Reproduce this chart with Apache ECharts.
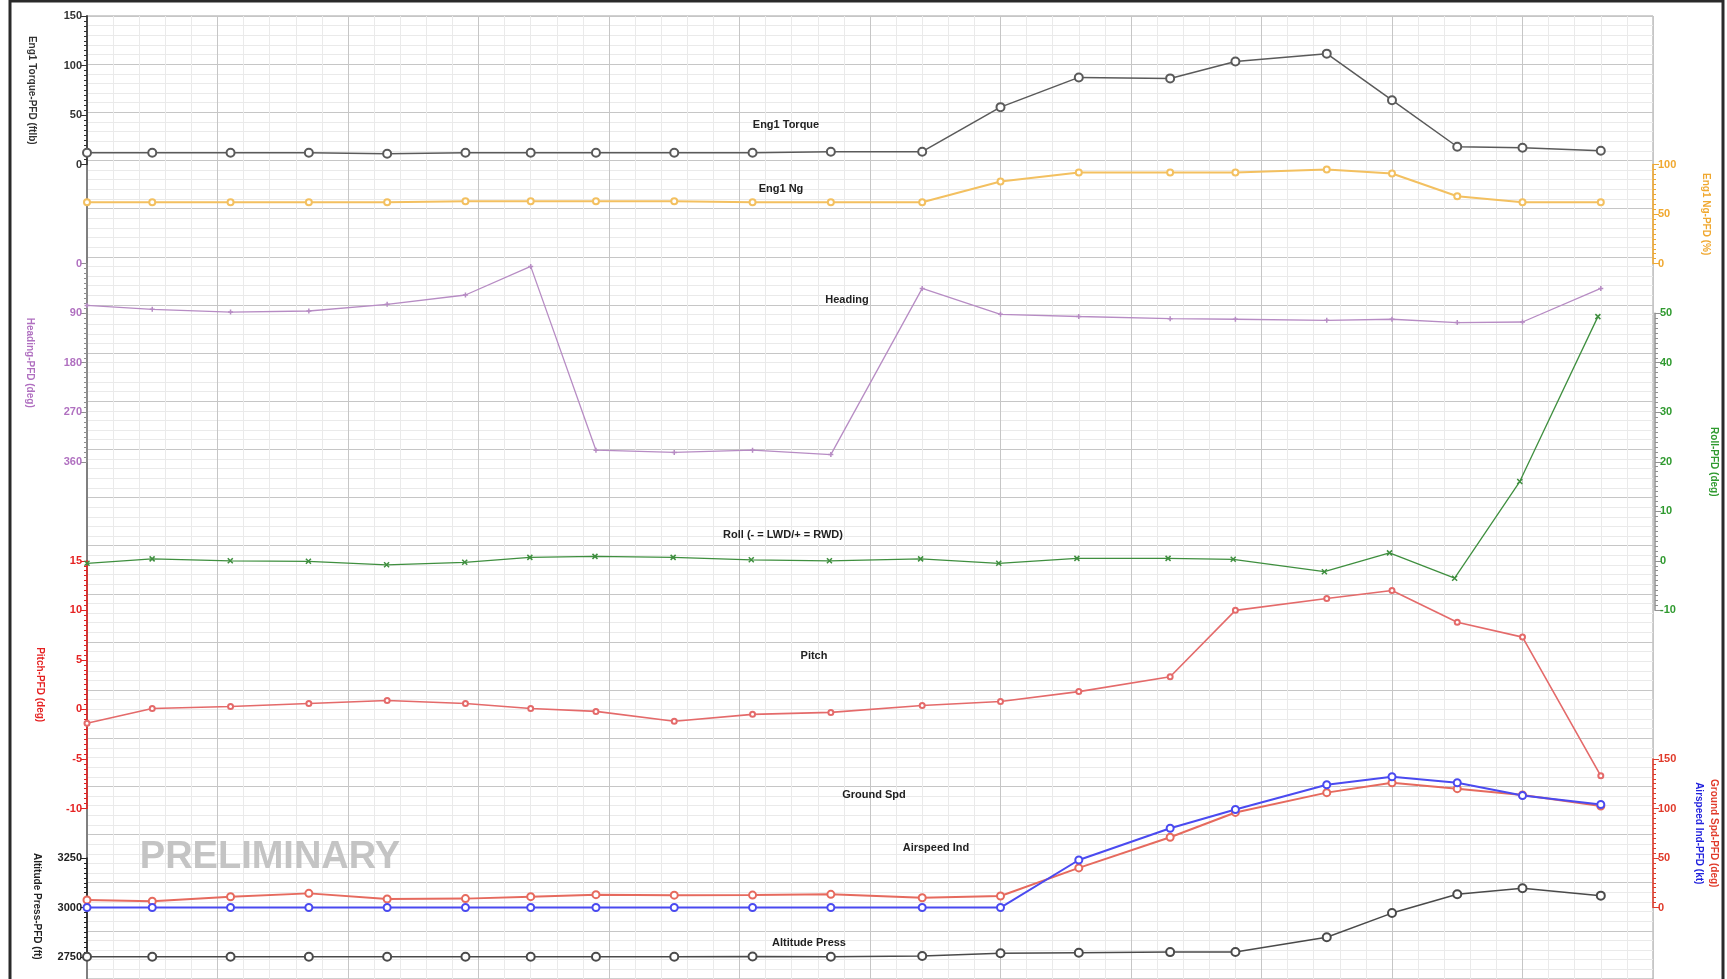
<!DOCTYPE html>
<html>
<head>
<meta charset="utf-8">
<script src="https://cdn.jsdelivr.net/npm/echarts@6/dist/echarts.min.js"></script>
<style>
  html, body { margin: 0; background: #fff; }
  #chart { width: 1727px; height: 979px; }
</style>
</head>
<body>
<div id="chart"></div>
<script>
// sample times (s)
const times = [0, 5, 11, 17, 23, 29, 34, 39, 45, 51, 57, 64, 70, 76, 83, 88, 95, 100, 105, 110, 116];

const torque = [12, 12, 12, 12, 11, 12, 12, 12, 12, 12, 13, 13, 58, 88, 87, 104, 112, 65, 18, 17, 14];
const ng = [62, 62, 62, 62, 62, 63, 63, 63, 63, 62, 62, 62, 83, 92, 92, 92, 95, 91, 68, 62, 62];
const heading = [76, 83, 88, 86, 74, 57, 5, 339, 343, 339, 347, 45, 92, 96, 100, 101, 103, 101, 107, 106, 45];
const roll = [-0.5, 0.4, 0, -0.1, -0.8, -0.3, 0.7, 0.9, 0.7, 0.2, 0, 0.4, -0.5, 0.5, 0.5, 0.3, -2.2, 1.6, -3.5, 16, 49.3];
const pitch = [-1.4, 0.1, 0.3, 0.6, 0.9, 0.6, 0.1, -0.2, -1.2, -0.5, -0.3, 0.4, 0.8, 1.8, 3.3, 10, 11.2, 12, 8.8, 7.3, -6.7];
const groundSpd = [7.6, 6.3, 10.9, 14.3, 8.6, 9, 11, 13, 12.5, 12.6, 13.3, 9.9, 11.6, 40, 71, 96, 116, 126, 120, 113.6, 102.5];
const airspeed = [0, 0, 0, 0, 0, 0, 0, 0, 0, 0, 0, 0, 0, 48, 80, 99, 124, 132, 126, 113, 104];
const altitude = [2752, 2752, 2752, 2752, 2752, 2752, 2752, 2752, 2752, 2753, 2752, 2755, 2769, 2772, 2775, 2776, 2850, 2972, 3067, 3097, 3060];

const chart = echarts.init(document.getElementById('chart'));

const LEFT = 87, RIGHT = 74, TOP = 16, STEP = 49.53;
const FONT = 'Liberation Sans';

// panel spanning grid rows [row, row + rows]
function panel(row, rows) {
  return { left: LEFT, right: RIGHT, top: TOP + row * STEP, height: rows * STEP };
}

const grids = [
  Object.assign(panel(0, 20), { show: true, borderColor: '#a0a0a0', borderWidth: 1, backgroundColor: '#fff' }),
  panel(0, 3),   // torque
  panel(3, 2),   // ng
  panel(5, 4),   // heading
  panel(6, 6),   // roll
  panel(11, 5),  // pitch
  panel(15, 3),  // speeds
  panel(17, 2)   // altitude
];

const xAxes = grids.map((g, i) => ({
  type: 'value', gridIndex: i, min: 0, max: 120, interval: 10,
  show: i === 0,
  axisLine: { show: false }, axisTick: { show: false }, axisLabel: { show: false },
  splitLine: { show: i === 0, lineStyle: { color: '#c6c6c6', width: 1 } },
  minorTick: { show: i === 0, splitNumber: 5, length: 0 },
  minorSplitLine: { show: i === 0, lineStyle: { color: '#eaeaea', width: 1 } }
}));

function yAx(grid, pos, min, max, interval, color, name, gap, extra, lineColor) {
  const lc = lineColor || color;
  return Object.assign({
    type: 'value', gridIndex: grid, position: pos, min: min, max: max, interval: interval,
    axisLine: { show: true, onZero: false, lineStyle: { color: lc, width: 1.5 } },
    axisTick: { show: true, length: 6, lineStyle: { color: lc } },
    minorTick: { show: true, splitNumber: 10, length: 3, lineStyle: { color: lc } },
    axisLabel: { color: color, fontSize: 11, fontWeight: 'bold', fontFamily: FONT, margin: 5 },
    splitLine: { show: false },
    name: name, nameLocation: 'middle', nameRotate: -90, nameGap: gap,
    nameTextStyle: { color: color, fontSize: 10, fontWeight: 'bold', fontFamily: FONT }
  }, extra || {});
}

const yAxes = [
  {
    type: 'value', gridIndex: 0, min: 0, max: 20, interval: 1, inverse: true,
    axisLine: { show: true, onZero: false, lineStyle: { color: '#808080', width: 2 } },
    axisTick: { show: false }, axisLabel: { show: false },
    splitLine: { show: true, lineStyle: { color: '#c6c6c6', width: 1 } },
    minorTick: { show: false, splitNumber: 5 },
    minorSplitLine: { show: true, lineStyle: { color: '#eaeaea', width: 1 } }
  },
  yAx(1, 'left', 0, 150, 50, '#333', 'Eng1 Torque-PFD (ftlb)', 50),
  yAx(2, 'right', 0, 100, 50, '#f0a830', 'Eng1 Ng-PFD (%)', 48),
  yAx(3, 'left', 0, 360, 90, '#b070c0', 'Heading-PFD (deg)', 52, { inverse: true }, '#909090'),
  yAx(4, 'right', -10, 50, 10, '#2f9a2f', 'Roll-PFD (deg)', 54, { offset: 5 }, '#909090'),
  yAx(5, 'left', -10, 15, 5, '#e52222', 'Pitch-PFD (deg)', 42),
  yAx(6, 'right', 0, 150, 50, '#e03a2a', 'Ground Spd-PFD (deg)', 56),
  yAx(6, 'right', 0, 150, 50, '#2222dd', 'Airspeed Ind-PFD (kt)', 41,
      { axisLine: { show: false }, axisTick: { show: false }, minorTick: { show: false }, axisLabel: { show: false } }),
  yAx(7, 'left', 2750, 3250, 250, '#222', '', 0)
];
yAxes[8].axisLabel.formatter = v => String(v);

function pairs(vals) {
  return times.map((t, i) => [t, vals[i]]);
}

function line(name, grid, yIdx, vals, color, symbol, size, width) {
  return {
    name: name, type: 'line', xAxisIndex: grid, yAxisIndex: yIdx,
    data: pairs(vals), clip: false, animation: false,
    symbol: symbol, symbolSize: size, showSymbol: true,
    lineStyle: { color: color, width: width },
    itemStyle: { color: color, borderColor: color, borderWidth: 1.5 }
  };
}

const cross = 'path://M0,0 L10,10 M10,0 L0,10';
const plus = 'path://M5,0 L5,10 M0,5 L10,5';

const series = [
  line('Eng1 Torque', 1, 1, torque, '#5a5a5a', 'emptyCircle', 8, 1.5),
  line('Eng1 Ng', 2, 2, ng, '#f3c060', 'emptyCircle', 6, 2),
  line('Heading', 3, 3, heading, '#b78cc4', plus, 5, 1.3),
  line('Roll', 4, 4, roll, '#3f8f3f', cross, 5, 1.3),
  line('Pitch', 5, 5, pitch, '#e46a6a', 'emptyCircle', 5, 1.6),
  line('Ground Spd', 6, 6, groundSpd, '#e66a5e', 'emptyCircle', 7, 2),
  line('Airspeed Ind', 6, 7, airspeed, '#4a4af0', 'emptyCircle', 7, 2),
  line('Altitude Press', 7, 8, altitude, '#4a4a4a', 'emptyCircle', 8, 1.5)
];

function tag(text, x, y) {
  return {
    type: 'text', x: x, y: y, z: 10,
    style: { text: text, fill: '#222', font: 'bold 11px ' + FONT, textAlign: 'center', textVerticalAlign: 'middle' }
  };
}

const graphic = [
  { type: 'rect', shape: { x: 10, y: 1, width: 1713, height: 1000 }, style: { fill: 'none', stroke: '#2a2a2a', lineWidth: 3 }, z: 20 },
  tag('Eng1 Torque', 786, 125),
  tag('Eng1 Ng', 781, 189),
  tag('Heading', 847, 300),
  tag('Roll (- = LWD/+ = RWD)', 783, 535),
  tag('Pitch', 814, 656),
  tag('Ground Spd', 874, 795),
  tag('Airspeed Ind', 936, 848),
  tag('Altitude Press', 809, 943),
  {
    type: 'text', x: 270, y: 858, z: 5,
    style: { text: 'PRELIMINARY', fill: '#c4c4c4', font: 'bold 38px ' + FONT, textAlign: 'center', textVerticalAlign: 'middle' }
  },
  {
    type: 'text', x: 37, y: 853, rotation: -Math.PI / 2, z: 10,
    style: { text: 'Altitude Press-PFD (ft)', fill: '#222', font: 'bold 10px ' + FONT, textAlign: 'left', textVerticalAlign: 'middle' }
  }
];

chart.setOption({
  backgroundColor: '#fff',
  animation: false,
  grid: grids,
  xAxis: xAxes,
  yAxis: yAxes,
  series: series,
  graphic: graphic
});
</script>
</body>
</html>
